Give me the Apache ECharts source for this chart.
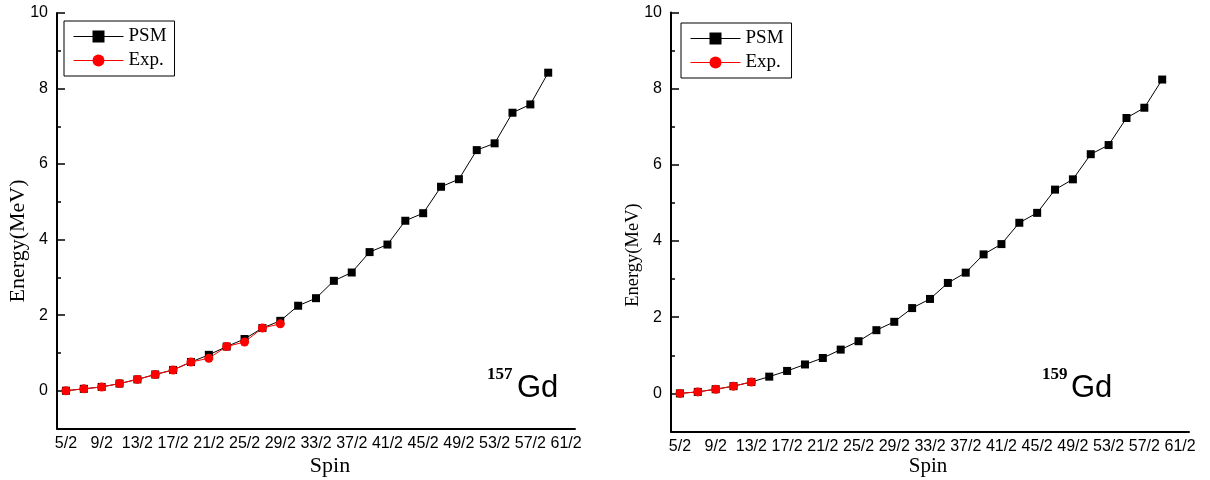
<!DOCTYPE html>
<html>
<head>
<meta charset="utf-8">
<script src="https://cdn.jsdelivr.net/npm/echarts@6.0.0/dist/echarts.min.js"></script>
<style>
  html, body { margin: 0; padding: 0; background: #fff; }
  #main { width: 1210px; height: 480px; }
</style>
</head>
<body>
<div id="main"></div>
<script>
// 自旋 (横轴类目)
var spins = ['5/2', '7/2', '9/2', '11/2', '13/2', '15/2', '17/2', '19/2', '21/2', '23/2',
  '25/2', '27/2', '29/2', '31/2', '33/2', '35/2', '37/2', '39/2', '41/2', '43/2',
  '45/2', '47/2', '49/2', '51/2', '53/2', '55/2', '57/2', '59/2', '61/2'];
// 纵轴刻度
var yMajor = [0, 2, 4, 6, 8, 10];
var yMinor = [-1, 1, 3, 5, 7, 9];

// 157Gd
var psm157 = [0, 0.05, 0.1, 0.19, 0.3, 0.43, 0.55, 0.76, 0.95, 1.17, 1.37, 1.66, 1.85, 2.25,
  2.45, 2.91, 3.13, 3.67, 3.87, 4.5, 4.7, 5.4, 5.6, 6.37, 6.55, 7.36, 7.58, 8.42];
var exp157 = [0, 0.05, 0.1, 0.19, 0.3, 0.43, 0.55, 0.76, 0.86, 1.17, 1.29, 1.66, 1.77];

// 159Gd
var psm159 = [0, 0.04, 0.11, 0.19, 0.3, 0.44, 0.59, 0.76, 0.93, 1.15, 1.37, 1.66, 1.88, 2.24,
  2.48, 2.9, 3.17, 3.65, 3.92, 4.48, 4.74, 5.35, 5.62, 6.28, 6.52, 7.23, 7.5, 8.24];
var exp159 = [0, 0.04, 0.11, 0.19, 0.3];

var black = '#000';
var tickStyle = { color: black, width: 1.5 };

function xAxes(g) {
  return [
    {
      gridIndex: g,
      type: 'category',
      data: spins,
      position: 'bottom',
      axisLine: { onZero: false, lineStyle: { color: black, width: 2 } },
      axisTick: { inside: true, alignWithLabel: true, interval: 0, length: 4, lineStyle: tickStyle },
      axisLabel: { interval: 1, color: black, fontFamily: 'Liberation Sans', fontSize: 16, margin: 7 },
      splitLine: { show: false },
    },
    {
      // 主刻度(长)
      gridIndex: g,
      type: 'category',
      data: spins,
      position: 'bottom',
      axisLine: { show: false, onZero: false },
      axisLabel: { show: false },
      axisTick: { inside: true, alignWithLabel: true, interval: 1, length: 8, lineStyle: tickStyle },
      splitLine: { show: false },
    },
  ];
}

function yAxes(g) {
  return [
    {
      gridIndex: g,
      type: 'value',
      position: 'left',
      min: -1,
      max: 10,
      axisLine: { show: true, onZero: false, lineStyle: { color: black, width: 2 } },
      axisTick: { show: true, inside: true, length: 8, customValues: yMajor, lineStyle: tickStyle },
      axisLabel: { customValues: yMajor, color: black, fontFamily: 'Liberation Sans', fontSize: 16, margin: 9 },
      splitLine: { show: false },
    },
    {
      // 次刻度(短)
      gridIndex: g,
      type: 'value',
      position: 'left',
      offset: 0,
      min: -1,
      max: 10,
      axisLine: { show: false, onZero: false },
      axisTick: { show: true, inside: true, length: 4, customValues: yMinor, lineStyle: tickStyle },
      axisLabel: { show: false },
      splitLine: { show: false },
    },
  ];
}

function legend(left, top) {
  return {
    left: left,
    top: top,
    orient: 'vertical',
    padding: [6, 8, 6, 9],
    borderColor: black,
    borderWidth: 1,
    itemWidth: 50,
    itemHeight: 15,
    itemGap: 5,
    data: ['PSM', 'Exp.'],
    lineStyle: { width: 1 },
    textStyle: { color: black, fontFamily: 'Liberation Serif', fontSize: 19 },
  };
}

function psmSeries(data, xi) {
  return {
    name: 'PSM',
    type: 'line',
    xAxisIndex: xi,
    yAxisIndex: xi,
    data: data,
    symbol: 'rect',
    symbolSize: 8,
    itemStyle: { color: black },
    lineStyle: { color: black, width: 1 },
  };
}

function expSeries(data, xi) {
  return {
    name: 'Exp.',
    type: 'line',
    xAxisIndex: xi,
    yAxisIndex: xi,
    data: data,
    symbol: 'circle',
    symbolSize: 9,
    itemStyle: { color: '#ff0000' },
    lineStyle: { color: '#ff0000', width: 1 },
  };
}

function label(text, x, y, size, rotate, family, weight, align) {
  return {
    type: 'text',
    x: x,
    y: y,
    rotation: rotate ? Math.PI / 2 : 0,
    style: {
      text: text,
      fill: black,
      fontSize: size,
      fontFamily: family || 'Liberation Serif',
      fontWeight: weight || 'normal',
      align: align || 'center',
      verticalAlign: 'middle',
    },
  };
}

var myChart = echarts.init(document.getElementById('main'));
var option = {
  animation: false,
  backgroundColor: '#fff',
  grid: [
    { left: 57, top: 13, width: 518, height: 415.5 },
    { left: 671, top: 12.5, width: 518, height: 419 },
  ],
  legend: [legend(64, 21), legend(681, 23)],
  xAxis: xAxes(0).concat(xAxes(1)),
  yAxis: yAxes(0).concat(yAxes(1)),
  series: [
    psmSeries(psm157, 0),
    expSeries(exp157, 0),
    psmSeries(psm159, 2),
    expSeries(exp159, 2),
  ],
  graphic: [
    label('Energy(MeV)', 18.5, 241, 22, true),
    label('Spin', 330, 466, 22),
    label('Energy(MeV)', 633.5, 255, 18.5, true),
    label('Spin', 928, 466, 21),
    label('157', 487, 375, 17, false, 'Liberation Serif', 'bold', 'left'),
    label('Gd', 517, 388, 31, false, 'Liberation Sans', 'normal', 'left'),
    label('159', 1042, 375, 17, false, 'Liberation Serif', 'bold', 'left'),
    label('Gd', 1071, 388, 31, false, 'Liberation Sans', 'normal', 'left'),
  ],
};
myChart.setOption(option);
window.addEventListener('resize', function () {
  myChart.resize();
});
</script>
</body>
</html>
